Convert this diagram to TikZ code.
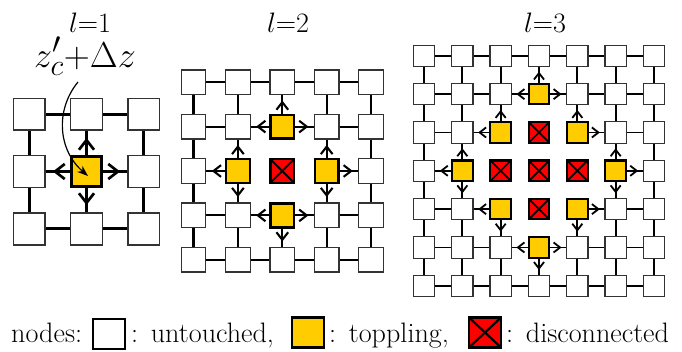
\documentclass[tikz,border=0pt]{standalone}
\usetikzlibrary{arrows.meta}
\definecolor{topyel}{RGB}{255,204,0}
\definecolor{discred}{RGB}{255,0,0}
\tikzset{
  gunt/.style={rectangle, draw=black!80, fill=white, inner sep=0pt, minimum size={\gS*0.555pt}, line width={\gS*0.03pt}},
  gtop/.style={rectangle, draw=black, fill=topyel, inner sep=0pt, minimum size={\gS*0.535pt}, line width={\gS*0.055pt}},
  gdis/.style={gtop, fill=discred, path picture={\draw[line width={\gS*0.045pt}] (path picture bounding box.south west) -- (path picture bounding box.north east) (path picture bounding box.north west) -- (path picture bounding box.south east);}},
  gedge/.style={line width={\gS*0.047pt}},
  garrow/.style={gedge, -{Straight Barb[length=0pt 3.6, width=0pt 5.6]}, shorten >={\gS*0.12pt}},
  txt/.style={font=\fontsize{24.88}{30}\selectfont\frenchspacing, scale=1.13, inner sep=0pt},
  bigtxt/.style={font=\fontsize{24.88}{30}\selectfont, scale=1.45, inner sep=0pt},
  lbox/.style={rectangle, draw=black, inner sep=0pt, minimum width=32pt, minimum height=30pt, line width=2.4pt},
  lunt/.style={lbox, fill=white},
  ltop/.style={lbox, fill=topyel},
  ldis/.style={lbox, fill=discred, path picture={\draw[line width=2.2pt] (path picture bounding box.south west) -- (path picture bounding box.north east) (path picture bounding box.north west) -- (path picture bounding box.south east);}},
}
\newcommand\gtypeof[3]{\pgfmathtruncatemacro#3{(abs(#1-\gL)+abs(#2-\gL)<\gL-1) ? 2 : ((abs(#1-\gL)+abs(#2-\gL)==\gL-1) ? 1 : 0)}}
\newcommand\gconnect[4]{%
  \ifnum#3=2 \else\ifnum#4=2 \else
    \draw[gedge] (#1) -- (#2);
    \ifnum#3=1 \draw[garrow] (#1) -- (#2);\fi
    \ifnum#4=1 \draw[garrow] (#2) -- (#1);\fi
  \fi\fi}
\newcommand\drawgrid[4]{%
  \pgfmathsetmacro\gS{#4}%
  \pgfmathtruncatemacro\gL{#1}%
  \pgfmathtruncatemacro\gN{2*#1}%
  \foreach \i in {0,...,\gN}{%
    \foreach \j in {0,...,\gN}{%
      \gtypeof{\i}{\j}{\gT}%
      \ifcase\gT
        \node[gunt] (g#1-\i-\j) at ({#2+(\i-\gL)*\gS},{#3+(\j-\gL)*\gS}) {};
      \or
        \node[gtop] (g#1-\i-\j) at ({#2+(\i-\gL)*\gS},{#3+(\j-\gL)*\gS}) {};
      \or
        \node[gdis] (g#1-\i-\j) at ({#2+(\i-\gL)*\gS},{#3+(\j-\gL)*\gS}) {};
      \fi
    }%
  }%
  \foreach \i in {1,...,\gN}{%
    \foreach \j in {0,...,\gN}{%
      \pgfmathtruncatemacro\ip{\i-1}%
      \gtypeof{\ip}{\j}{\gTa}\gtypeof{\i}{\j}{\gTb}%
      \gconnect{g#1-\ip-\j}{g#1-\i-\j}{\gTa}{\gTb}%
      \gtypeof{\j}{\ip}{\gTa}\gtypeof{\j}{\i}{\gTb}%
      \gconnect{g#1-\j-\ip}{g#1-\j-\i}{\gTa}{\gTb}%
    }%
  }%
}
\begin{document}
\begin{tikzpicture}[x=1pt, y=-1pt]
\useasboundingbox (0,0) rectangle (682,351);
% titles
\node[txt, anchor=base] (t1) at (90,32) {$l{=}1$};
\node[txt, anchor=base] (t2) at (288,32) {$l{=}2$};
\node[txt, anchor=base] (t3) at (545,32) {$l{=}3$};
\node[bigtxt, anchor=base] (f) at (85,67) {$z'_c{+}\Delta z$};
% grids
\drawgrid{1}{86.5}{171.5}{57.25}
\drawgrid{2}{282.3}{171}{44.4}
\drawgrid{3}{539}{170.8}{38.33}
% curved arrow
\coordinate (fs) at (78,82);
\coordinate (fe) at (88,176);
\draw[line width=1.2pt, -{Stealth[length=11pt,width=8pt]}] (fs) .. controls (55,110) and (58,150) .. (fe);
% legend
\node[txt, anchor=base west] (ln) at (11,342) {nodes:};
\node[lunt] (lb1) at (109,334) {};
\node[txt, anchor=base west] (lt1) at (131,342) {:\hspace{0.45em}untouched,};
\node[ltop] (lb2) at (308,332.5) {};
\node[txt, anchor=base west] (lt2) at (329,342) {:\hspace{0.45em}toppling,};
\node[ldis] (lb3) at (485,332.5) {};
\node[txt, anchor=base west] (lt3) at (506,342) {:\hspace{0.45em}disconnected};
\end{tikzpicture}
\end{document}
